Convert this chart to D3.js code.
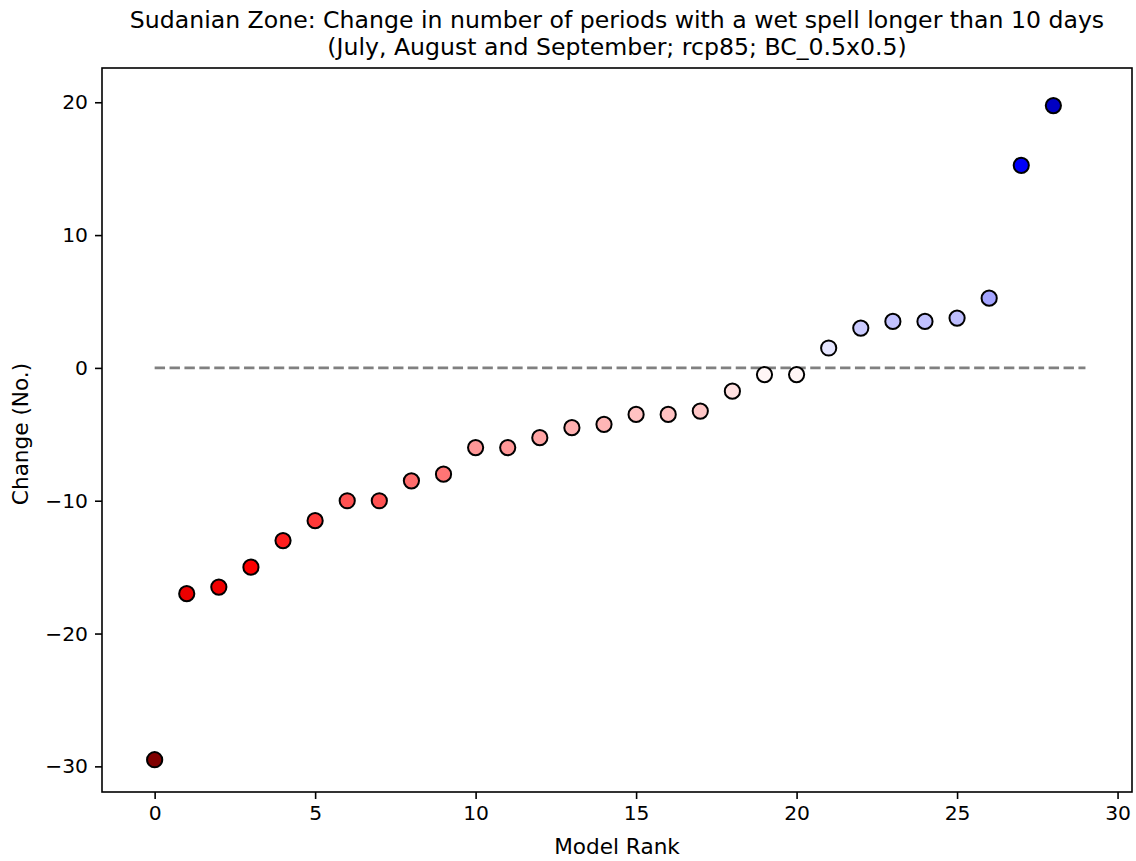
<!DOCTYPE html>
<html>
<head>
<meta charset="utf-8">
<script src="https://cdn.jsdelivr.net/npm/d3@7"></script>
<style>
  body { margin: 0; background: #fff; }
  text { font-family: "DejaVu Sans", sans-serif; fill: #000; }
</style>
</head>
<body>
<div id="chart"></div>
<script>
const width = 1136
const height = 861

// model ranks and change values
const ranks = d3.range(29)
const changes = [-29.5, -17.0, -16.5, -15.0, -13.0, -11.5, -10.0, -10.0, -8.5, -8.0,
  -6.0, -6.0, -5.25, -4.5, -4.25, -3.5, -3.5, -3.25, -1.75, -0.5,
  -0.5, 1.5, 3.0, 3.5, 3.5, 3.75, 5.25, 15.25, 19.75]
const xTicks = [0, 5, 10, 15, 20, 25, 30]
const yTicks = [-30, -20, -10, 0, 10, 20]
const titleLines = [
  "Sudanian Zone: Change in number of periods with a wet spell longer than 10 days",
  "(July, August and September; rcp85; BC_0.5x0.5)"
]

const margin = { left: 102, right: 1132, top: 68, bottom: 792 }

const svg = d3.select("#chart").append("svg")
  .attr("width", width).attr("height", height)

const x = d3.scaleLinear().domain([-1.64, 30.45]).range([margin.left, margin.right])
const y = d3.scaleLinear().domain([-31.93, 22.58]).range([margin.bottom, margin.top])

// seismic colormap, reversed so that negative values are red
const seismic = d3.scaleLinear()
  .domain([0, 0.25, 0.5, 0.75, 1])
  .range(["#00004d", "#0000ff", "#ffffff", "#ff0000", "#800000"])
const vmax = d3.max(changes, Math.abs)
const colorOf = v => seismic(0.5 - v / (2 * vmax))

// zero line
svg.append("line")
  .attr("x1", x(0)).attr("x2", x(29))
  .attr("y1", y(0)).attr("y2", y(0))
  .attr("stroke", "#808080").attr("stroke-width", 2.8)
  .attr("stroke-dasharray", "10.4,4.5")

// points
svg.selectAll("circle.pt")
  .data(ranks)
  .enter().append("circle")
  .attr("class", "pt")
  .attr("cx", d => x(d))
  .attr("cy", d => y(changes[d]))
  .attr("r", 7.6)
  .attr("fill", d => colorOf(changes[d]))
  .attr("stroke", "#000").attr("stroke-width", 2)

// axes
const xAxis = svg.append("g")
  .attr("transform", `translate(0,${margin.bottom})`)
  .call(d3.axisBottom(x).tickValues(xTicks).tickSize(7).tickPadding(7).tickFormat(d3.format("d")))
const yAxis = svg.append("g")
  .attr("transform", `translate(${margin.left},0)`)
  .call(d3.axisLeft(y).tickValues(yTicks).tickSize(7).tickPadding(7).tickFormat(d => d < 0 ? "\u2212" + Math.abs(d) : d))

;[xAxis, yAxis].forEach(a => {
  a.select(".domain").remove()
  a.selectAll(".tick line").attr("stroke", "#000").attr("stroke-width", 1.6)
  a.selectAll(".tick text").style("font-size", "20.3px").attr("font-family", "DejaVu Sans").attr("fill", "#000")
})

// frame
svg.append("rect")
  .attr("x", margin.left).attr("y", margin.top)
  .attr("width", margin.right - margin.left).attr("height", margin.bottom - margin.top)
  .attr("fill", "none").attr("stroke", "#000").attr("stroke-width", 1.6)

// titles and labels
svg.selectAll("text.title")
  .data(titleLines)
  .enter().append("text")
  .attr("class", "title")
  .attr("x", (margin.left + margin.right) / 2)
  .attr("y", (d, i) => 28 + i * 27)
  .attr("text-anchor", "middle")
  .style("font-size", "23.6px")
  .text(d => d)

svg.append("text")
  .attr("x", (margin.left + margin.right) / 2).attr("y", 854)
  .attr("text-anchor", "middle")
  .style("font-size", "21.6px")
  .text("Model Rank")

svg.append("text")
  .attr("transform", `translate(28,${(margin.top + margin.bottom) / 2 + 4}) rotate(-90)`)
  .attr("text-anchor", "middle")
  .style("font-size", "21.6px")
  .text("Change (No.)")
</script>
</body>
</html>
